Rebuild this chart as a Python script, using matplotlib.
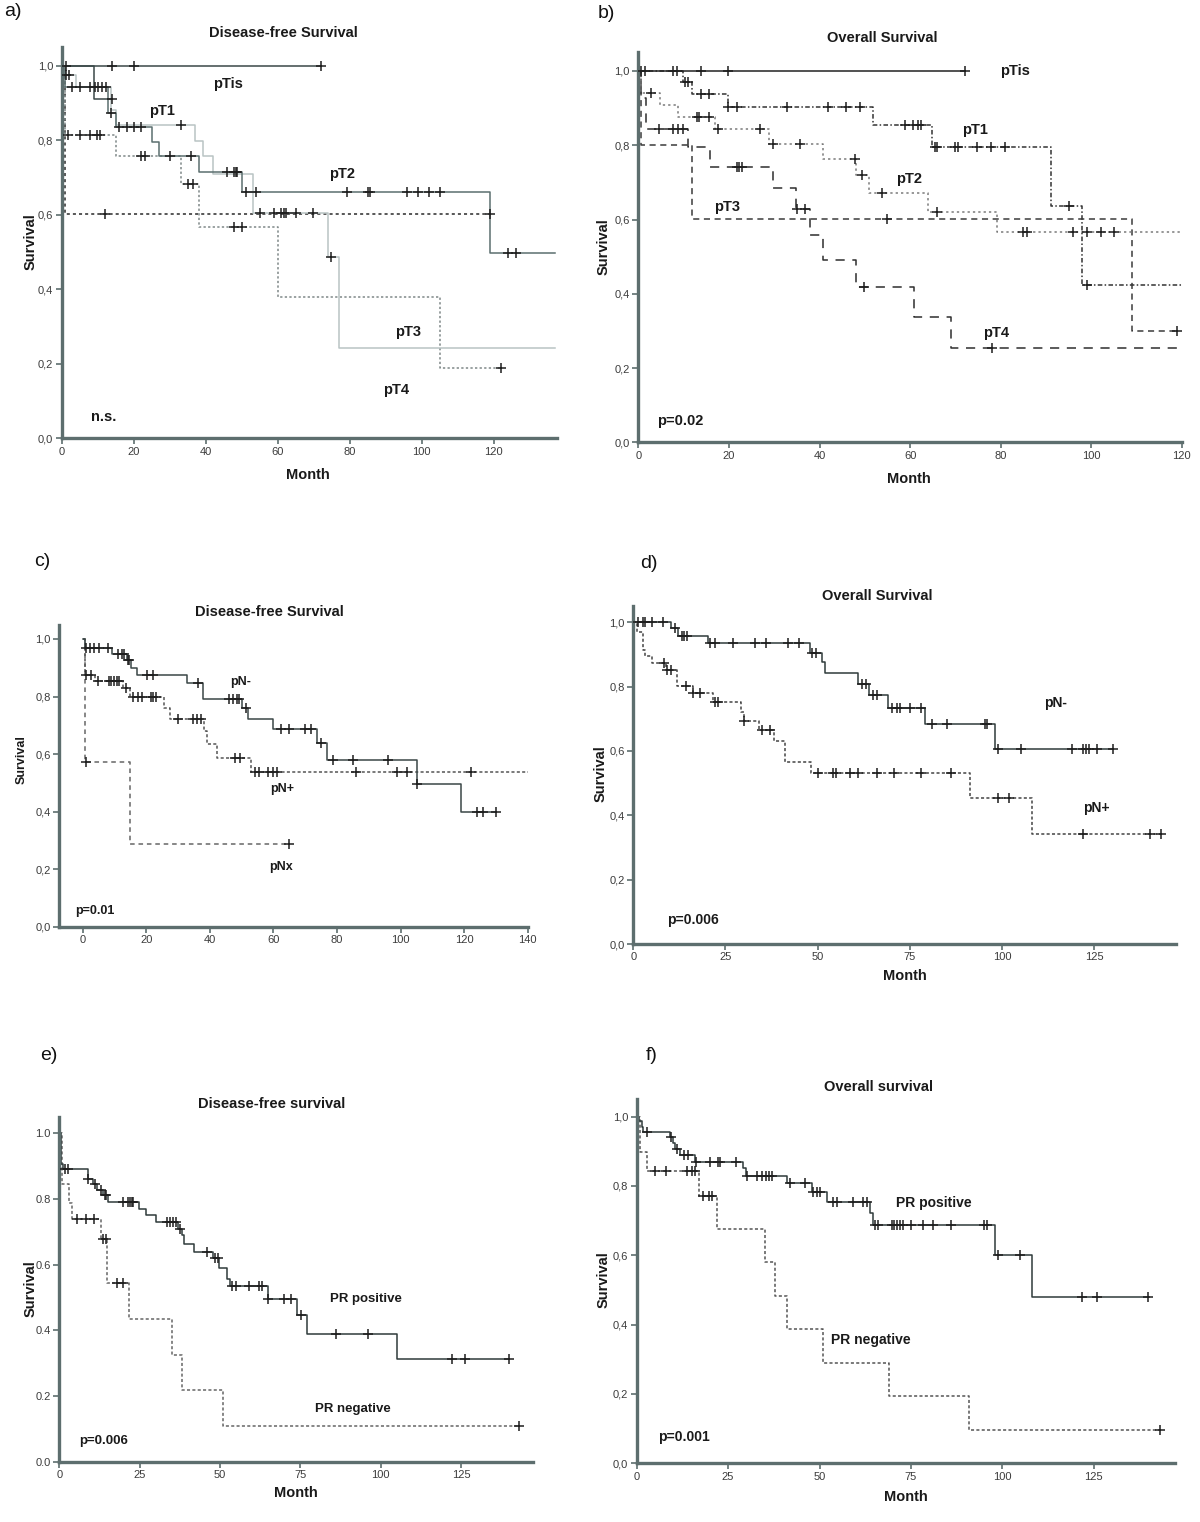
import numpy as np
import matplotlib
matplotlib.use("Agg")
import matplotlib.pyplot as plt
from matplotlib.ticker import FuncFormatter

plt.rcParams['font.family'] = ['Liberation Sans', 'DejaVu Sans']

# ---------------- data (months, survival after each event, censored times) ----------------
# a) Disease-free survival by pT
a_tis_t, a_tis_s, a_tis_c, a_tis_end = [], [], [1.1, 14.1, 20.0, 72.0], 72.0
a_t1_t, a_t1_s, a_t1_c, a_t1_end = [9.0], [0.911], [14.0], 14.0
a_t2_t = [1.0, 12.9, 15.0, 25.2, 27.0, 38.1, 50.0, 119.0]
a_t2_s = [0.944, 0.874, 0.836, 0.796, 0.757, 0.715, 0.662, 0.498]
a_t2_c = [2.8, 5.1, 13.8, 15.9, 18.0, 20.0, 22.1, 30.0, 36.0, 45.8, 47.9, 48.4, 48.8, 51.2, 53.9,
          79.2, 85.0, 85.7, 96.0, 99.1, 102.0, 105.1, 124.0, 126.1]
a_t2_end = 137.0
a_t3_t = [0.5, 4.1, 13.8, 15.2, 36.9, 39.2, 41.9, 53.0, 74.0, 76.9]
a_t3_s = [0.975, 0.944, 0.88, 0.84, 0.797, 0.757, 0.71, 0.605, 0.486, 0.243]
a_t3_c = [1.1, 2.1, 7.8, 9.2, 10.1, 11.1, 12.3, 33.0, 55.0, 59.0, 60.8, 61.8, 62.4, 65.0, 69.7, 74.9]
a_t3_end = 137.0
a_t4_t = [1.0, 15.0, 33.0, 38.1, 60.1, 105.1]
a_t4_s = [0.815, 0.757, 0.682, 0.568, 0.38, 0.19]
a_t4_c = [1.8, 5.1, 7.8, 9.7, 10.6, 22.1, 23.0, 35.0, 36.4, 47.9, 50.2, 122.1]
a_t4_end = 122.1
a_tx_t, a_tx_s, a_tx_c, a_tx_end = [1.0], [0.601], [12.0, 119.0], 119.0

# b) Overall survival by pT
b_tis_t, b_tis_s, b_tis_c, b_tis_end = [], [], [0.7, 1.5, 7.7, 8.5, 13.8, 19.9, 72.1], 72.1
b_t1_t = [9.8, 11.8, 19.7, 51.9, 64.9, 91.1, 98.0]
b_t1_s = [0.969, 0.938, 0.902, 0.855, 0.794, 0.636, 0.424]
b_t1_c = [10.3, 11.0, 13.8, 15.7, 19.9, 21.7, 32.9, 41.9, 45.8, 48.9, 58.9, 60.7, 61.7, 62.4,
          65.5, 65.9, 69.9, 70.6, 74.8, 77.8, 81.0, 95.1, 99.0]
b_t1_end = 120.0
b_t2_t = [0.7, 4.8, 8.8, 16.9, 28.8, 40.8, 48.0, 51.0, 63.9, 79.1]
b_t2_s = [0.94, 0.908, 0.877, 0.843, 0.803, 0.762, 0.72, 0.671, 0.619, 0.565]
b_t2_c = [2.8, 12.9, 13.5, 15.6, 17.7, 26.9, 29.7, 35.7, 47.8, 49.3, 53.9, 65.9, 85.0, 85.7,
          96.0, 99.0, 102.1, 105.0]
b_t2_end = 120.0
b_t3_t, b_t3_s, b_t3_c, b_t3_end = [0.7, 11.8, 108.9], [0.801, 0.601, 0.301], [54.8, 119.0], 119.0
b_t4_t = [0.7, 1.8, 10.9, 15.8, 29.8, 34.8, 37.9, 40.8, 48.0, 60.9, 69.0]
b_t4_s = [0.926, 0.844, 0.794, 0.742, 0.686, 0.628, 0.558, 0.491, 0.419, 0.338, 0.253]
b_t4_c = [4.6, 7.7, 8.8, 9.9, 21.7, 22.3, 22.8, 35.0, 36.8, 49.9, 78.0]
b_t4_end = 120.0

# c) Disease-free survival by pN
c_neg_t = [0.7, 9.1, 13.8, 15.2, 17.0, 32.9, 37.7, 50.2, 52.1, 60.0, 73.8, 76.9, 105.1, 119.0]
c_neg_s = [0.968, 0.947, 0.927, 0.900, 0.875, 0.848, 0.791, 0.759, 0.722, 0.687, 0.640, 0.579,
           0.496, 0.397]
c_neg_c = [1.0, 2.3, 3.6, 5.0, 7.8, 11.2, 12.3, 13.0, 14.2, 14.6, 20.1, 22.0, 36.2, 45.9, 47.4,
           48.4, 49.3, 51.3, 62.4, 65.0, 69.9, 71.7, 74.9, 78.8, 84.9, 95.9, 105.1, 124.0, 125.9, 130.0]
c_neg_end = 130.0
c_pos_t = [0.7, 3.9, 12.8, 14.9, 25.4, 27.3, 38.0, 39.0, 42.2, 53.0]
c_pos_s = [0.875, 0.855, 0.829, 0.800, 0.761, 0.723, 0.681, 0.635, 0.587, 0.536]
c_pos_c = [1.0, 2.5, 4.9, 8.1, 8.9, 9.9, 10.7, 11.5, 13.6, 15.9, 17.5, 18.6, 21.5, 22.2, 23.1,
           30.1, 34.6, 35.9, 37.2, 47.9, 49.5, 54.2, 55.3, 58.4, 59.8, 61.0, 85.9, 98.9, 101.9, 122.0]
c_pos_end = 140.0
c_x_t, c_x_s, c_x_c, c_x_end = [0.7, 14.9], [0.571, 0.286], [1.0, 65.0], 65.0

# d) Overall survival by pN
d_neg_t = [10.1, 12.2, 20.2, 47.9, 51.1, 52.0, 61.0, 64.0, 69.2, 79.0, 98.1]
d_neg_s = [0.981, 0.958, 0.935, 0.906, 0.876, 0.841, 0.808, 0.774, 0.735, 0.683, 0.606]
d_neg_c = [1.4, 2.7, 3.2, 5.2, 8.1, 11.3, 13.1, 13.8, 14.5, 20.8, 22.2, 27.1, 33.0, 35.9, 42.0,
           45.0, 48.6, 49.5, 61.9, 63.1, 65.1, 66.0, 70.1, 71.4, 72.3, 75.1, 78.0, 81.1, 85.2, 95.3,
           96.0, 99.0, 105.2, 118.9, 121.9, 122.8, 123.7, 125.9, 130.0]
d_neg_end = 130.0
d_pos_t = [0.9, 2.5, 3.2, 5.0, 8.9, 11.9, 16.1, 21.7, 29.1, 30.0, 34.1, 38.2, 41.1, 48.1, 91.2, 108.1]
d_pos_s = [0.97, 0.914, 0.895, 0.873, 0.852, 0.803, 0.779, 0.753, 0.722, 0.693, 0.665, 0.631,
           0.565, 0.531, 0.455, 0.341]
d_pos_c = [8.3, 9.2, 10.2, 14.2, 16.3, 18.1, 22.2, 22.9, 30.1, 34.8, 37.1, 50.2, 54.2, 55.0, 58.8,
           61.0, 66.0, 70.8, 78.0, 86.1, 99.0, 102.0, 122.0, 140.1, 143.2]
d_pos_end = 143.2

# e) Disease-free survival by PR status
e_pos_t = [0.5, 1.2, 9.0, 10.6, 11.8, 13.5, 15.2, 24.9, 27.0, 30.1, 36.8, 38.1, 38.9, 42.0, 47.9,
           49.8, 52.1, 53.1, 65.0, 74.1, 77.2, 105.2]
e_pos_s = [0.907, 0.891, 0.860, 0.845, 0.829, 0.812, 0.792, 0.770, 0.751, 0.731, 0.709, 0.690,
           0.663, 0.640, 0.619, 0.589, 0.558, 0.535, 0.495, 0.447, 0.389, 0.313]
e_pos_c = [1.8, 2.8, 9.0, 11.1, 13.0, 14.2, 14.5, 19.9, 21.3, 22.0, 22.5, 23.0, 33.4, 34.6, 35.5,
           36.3, 37.6, 46.1, 48.4, 49.5, 53.8, 54.9, 59.1, 62.2, 63.2, 65.0, 69.9, 72.1, 75.2, 86.1,
           96.1, 122.3, 126.2, 140.0]
e_pos_end = 140.0
e_neg_t = [0.7, 3.1, 4.1, 13.0, 14.9, 21.8, 35.0, 38.1, 51.0]
e_neg_s = [0.846, 0.789, 0.738, 0.677, 0.543, 0.435, 0.325, 0.218, 0.110]
e_neg_c = [5.4, 8.3, 10.9, 13.7, 14.5, 17.8, 19.9, 143.0]
e_neg_end = 143.0

# f) Overall survival by PR status
f_pos_t = [0.7, 1.4, 1.8, 9.1, 9.8, 10.5, 11.9, 16.0, 29.2, 29.9, 41.0, 47.9, 52.0, 63.8, 64.7,
           97.9, 108.0]
f_pos_s = [0.986, 0.97, 0.957, 0.940, 0.925, 0.906, 0.889, 0.870, 0.851, 0.830, 0.808, 0.782,
           0.753, 0.721, 0.686, 0.601, 0.481]
f_pos_c = [2.9, 9.4, 11.1, 13.0, 13.9, 16.2, 20.1, 22.2, 22.8, 27.1, 30.1, 32.8, 34.4, 35.4, 36.2,
           37.1, 41.9, 46.0, 48.1, 49.2, 50.1, 53.8, 54.7, 59.1, 62.0, 62.9, 65.2, 66.1, 69.7, 70.4,
           71.1, 71.9, 72.7, 75.0, 78.2, 81.0, 86.0, 95.1, 95.8, 98.9, 104.9, 121.9, 125.9, 139.9]
f_pos_end = 140.0
f_neg_t = [0.9, 2.9, 16.9, 21.9, 35.1, 37.8, 41.0, 50.9, 69.0, 90.8]
f_neg_s = [0.897, 0.843, 0.772, 0.676, 0.580, 0.484, 0.388, 0.290, 0.194, 0.096]
f_neg_c = [5.0, 8.0, 13.7, 15.0, 16.0, 18.2, 19.9, 20.5, 143.1]
f_neg_end = 143.1

# ---------------- helpers ----------------
W, H = 1200, 1522
SPINE = '#5d6e6e'


def surv_at(times, surv, t):
    i = np.searchsorted(times, t, side='right')
    return 1.0 if i == 0 else surv[i - 1]


def km(ax, times, surv, censors, end, color, ls, lw=1.1):
    x = [0.0] + list(times) + [end]
    y = [1.0] + list(surv) + [surv[-1] if surv else 1.0]
    ax.step(x, y, where='post', color=color, linestyle=ls, lw=lw, zorder=2)
    cy = [surv_at(times, surv, c) for c in censors]
    ax.plot(censors, cy, '+', color='#1e1e1e', ms=6.5, mew=1.1, zorder=3)


def make_axes(fig, left, top, right, bottom):
    return fig.add_axes([left / W, 1 - bottom / H, (right - left) / W, (bottom - top) / H])


def style(ax, xlim, xticks, comma=True):
    ax.set_xlim(*xlim)
    ax.set_ylim(0, 1.05)
    ax.set_xticks(xticks)
    ax.set_yticks([0, 0.2, 0.4, 0.6, 0.8, 1.0])
    if comma:
        ax.yaxis.set_major_formatter(FuncFormatter(lambda v, p: f"{v:.1f}".replace('.', ',')))
    else:
        ax.yaxis.set_major_formatter(FuncFormatter(lambda v, p: f"{v:.1f}"))
    for s in ['top', 'right']:
        ax.spines[s].set_visible(False)
    for s in ['left', 'bottom']:
        ax.spines[s].set_color(SPINE)
        ax.spines[s].set_linewidth(2.4)
    ax.tick_params(direction='out', length=4, width=1.2, color=SPINE,
                   labelsize=8, labelcolor='#3c3c3c', pad=2)
    ax.set_facecolor('white')


def ftext(fig, x, y, s, **kw):
    fig.text(x / W, 1 - y / H, s, **kw)


fig = plt.figure(figsize=(12, 15.22), dpi=100)
bold = dict(fontweight='bold', color='#1a1a1a')

# ---------------- a) ----------------
ax = make_axes(fig, 61.7, 47.1, 556.7, 438.3)
style(ax, (0, 137.5), range(0, 121, 20))
km(ax, a_tx_t, a_tx_s, a_tx_c, a_tx_end, '#2a2a2a', (0, (2, 2)))
km(ax, a_t4_t, a_t4_s, a_t4_c, a_t4_end, '#7e8888', (0, (1.5, 1.5)))
km(ax, a_t3_t, a_t3_s, a_t3_c, a_t3_end, '#b9c4c4', '-')
km(ax, a_t2_t, a_t2_s, a_t2_c, a_t2_end, '#5b6f6f', '-')
km(ax, a_t1_t, a_t1_s, a_t1_c, a_t1_end, '#3a4848', '-')
km(ax, a_tis_t, a_tis_s, a_tis_c, a_tis_end, '#3a4848', '-')
for lab, x, y in [('pTis', 42.1, 0.951), ('pT1', 24.2, 0.879), ('pT2', 74.4, 0.709),
                  ('pT3', 92.6, 0.286), ('pT4', 89.4, 0.13), ('n.s.', 8.0, 0.057)]:
    ax.text(x, y, lab, fontsize=10.5, va='center', ha='left', **bold)

# ---------------- b) ----------------
ax = make_axes(fig, 638.3, 52.4, 1181.9, 442.3)
style(ax, (0, 120), range(0, 121, 20))
km(ax, b_t4_t, b_t4_s, b_t4_c, b_t4_end, '#2e2e2e', (0, (6, 5)))
km(ax, b_t3_t, b_t3_s, b_t3_c, b_t3_end, '#3a3a3a', (0, (4, 3)))
km(ax, b_t2_t, b_t2_s, b_t2_c, b_t2_end, '#7a7a7a', (0, (1.5, 2)))
km(ax, b_t1_t, b_t1_s, b_t1_c, b_t1_end, '#333333', (0, (3, 1.5, 1, 1.5)))
km(ax, b_tis_t, b_tis_s, b_tis_c, b_tis_end, '#222222', '-')
for lab, x, y in [('pTis', 79.8, 1.0), ('pT1', 71.5, 0.841), ('pT2', 56.9, 0.709),
                  ('pT3', 16.7, 0.635), ('pT4', 76.0, 0.295), ('p=0.02', 4.1, 0.057)]:
    ax.text(x, y, lab, fontsize=10.5, va='center', ha='left', **bold)

# ---------------- c) ----------------
ax = make_axes(fig, 59.3, 624.6, 527.7, 926.7)
style(ax, (-7.4, 140), range(0, 141, 20))
km(ax, c_x_t, c_x_s, c_x_c, c_x_end, '#666666', (0, (3, 2.5)))
km(ax, c_pos_t, c_pos_s, c_pos_c, c_pos_end, '#555555', (0, (2, 1.5)))
km(ax, c_neg_t, c_neg_s, c_neg_c, c_neg_end, '#3a4747', '-')
for lab, x, y in [('pN-', 46.3, 0.852), ('pN+', 59.0, 0.477), ('pNx', 58.7, 0.209),
                  ('p=0.01', -2.4, 0.056)]:
    ax.text(x, y, lab, fontsize=9, va='center', ha='left', **bold)

# ---------------- d) ----------------
ax = make_axes(fig, 633.3, 606.2, 1176, 944)
style(ax, (0, 147.2), range(0, 126, 25))
km(ax, d_pos_t, d_pos_s, d_pos_c, d_pos_end, '#444444', (0, (2, 1.5)))
km(ax, d_neg_t, d_neg_s, d_neg_c, d_neg_end, '#2f3b3b', '-')
for lab, x, y in [('pN-', 111.5, 0.75), ('pN+', 121.9, 0.422), ('p=0.006', 9.1, 0.075)]:
    ax.text(x, y, lab, fontsize=10, va='center', ha='left', **bold)

# ---------------- e) ----------------
ax = make_axes(fig, 59.3, 1117, 532.7, 1461.7)
style(ax, (0, 147.3), range(0, 126, 25), comma=False)
km(ax, e_neg_t, e_neg_s, e_neg_c, e_neg_end, '#666666', (0, (2, 1.5)))
km(ax, e_pos_t, e_pos_s, e_pos_c, e_pos_end, '#2f3b3b', '-')
for lab, x, y in [('PR positive', 84.2, 0.495), ('PR negative', 79.6, 0.16), ('p=0.006', 6.2, 0.063)]:
    ax.text(x, y, lab, fontsize=9.5, va='center', ha='left', **bold)

# ---------------- f) ----------------
ax = make_axes(fig, 636.7, 1099.3, 1175, 1463.3)
style(ax, (0, 147.2), range(0, 126, 25))
km(ax, f_neg_t, f_neg_s, f_neg_c, f_neg_end, '#555555', (0, (2, 1.5)))
km(ax, f_pos_t, f_pos_s, f_pos_c, f_pos_end, '#2f3b3b', '-')
for lab, x, y in [('PR positive', 71.0, 0.752), ('PR negative', 53.1, 0.356), ('p=0.001', 5.9, 0.077)]:
    ax.text(x, y, lab, fontsize=10, va='center', ha='left', **bold)

# ---------------- titles, axis labels, panel letters ----------------
for s, x, y in [('Disease-free Survival', 283, 32.7), ('Overall Survival', 882, 38.3),
                ('Disease-free Survival', 269, 611.7), ('Overall Survival', 877, 596),
                ('Disease-free survival', 272, 1104.3), ('Overall survival', 878, 1087.3)]:
    ftext(fig, x, y, s, fontsize=10.5, ha='center', va='center', **bold)

for x, y, fs in [(30.7, 241.7, 10.5), (603.3, 246.7, 10.5), (22, 760, 9), (600.7, 773.3, 10.5),
                 (30.7, 1288.3, 10.5), (603.3, 1280, 10.5)]:
    ftext(fig, x, y, 'Survival', fontsize=fs, rotation=90, ha='center', va='center', **bold)

for x, y in [(308, 475), (909, 479.3), (905, 975.7), (296, 1493.3), (905.5, 1496.7)]:
    ftext(fig, x, y, 'Month', fontsize=10.5, ha='center', va='center', **bold)

for s, x, y in [('a)', 4, 12), ('b)', 598, 14), ('c)', 34, 562), ('d)', 640, 563),
                ('e)', 40, 1055), ('f)', 646, 1056)]:
    ftext(fig, x, y, s, fontsize=14, ha='left', va='center', color='#111111')

fig.savefig('out.png', dpi=100, facecolor='white')
